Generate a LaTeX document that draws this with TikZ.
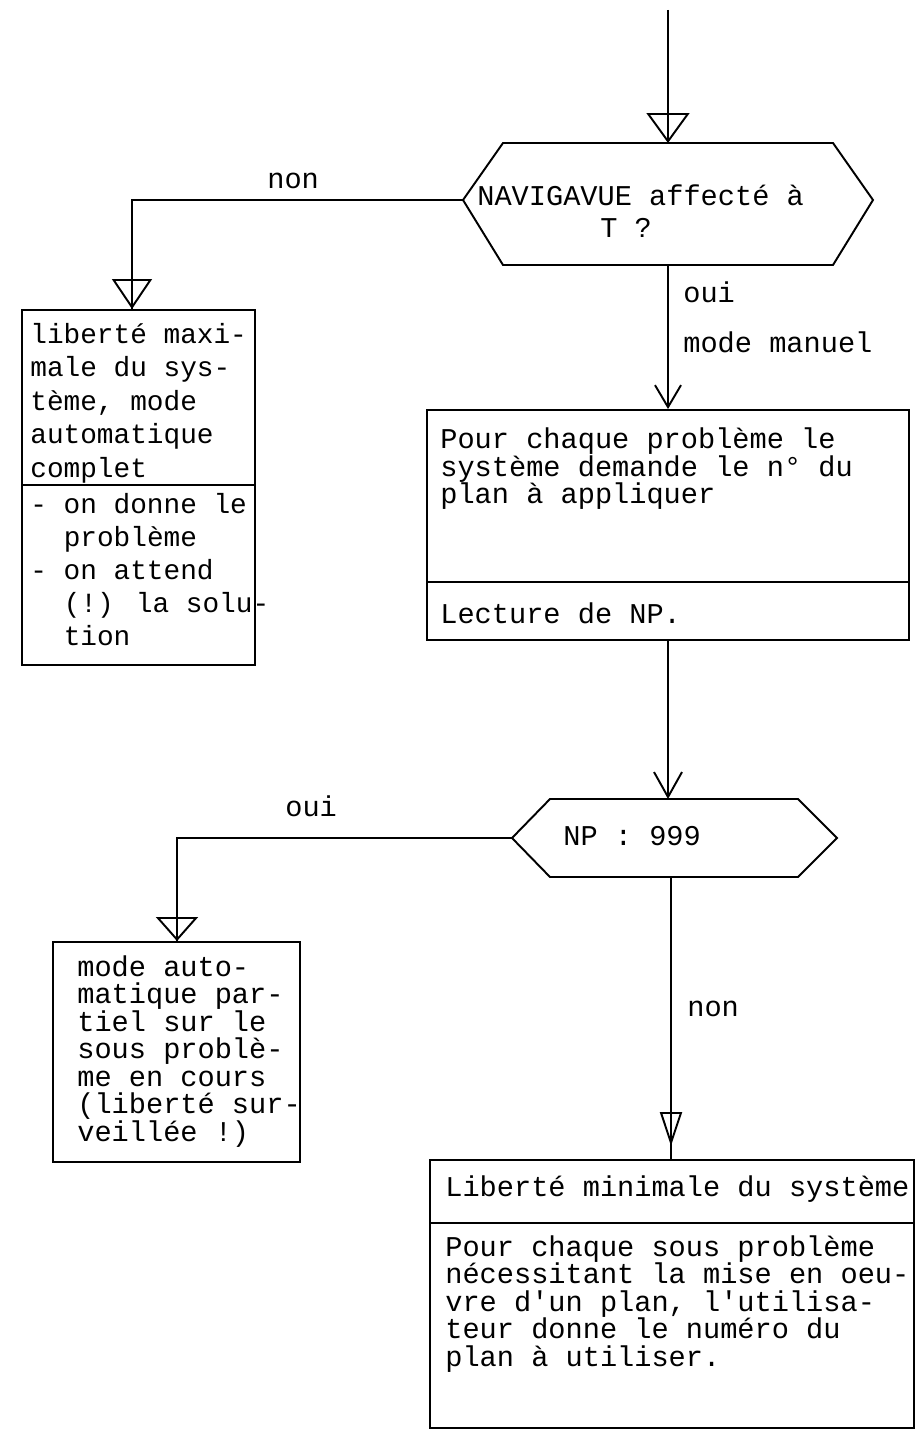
\documentclass[tikz,border=0pt]{standalone}
\usepackage{fontspec}
\newfontfamily\tw{Liberation Mono}
\usetikzlibrary{arrows.meta,decorations.markings,fit}
\begin{document}
\begin{tikzpicture}[x=0.02cm,y=-0.02cm,
  ln/.style={line width=1.1pt},
  box/.style={draw,line width=1.1pt,inner sep=0pt},
  txt/.style={anchor=base west,inner sep=0pt,font=\tw\fontsize{16.3pt}{16pt}\selectfont},
  txts/.style={txt,font=\tw\fontsize{15.8pt}{16pt}\selectfont},
  tri/.style n args={3}{postaction={decorate,decoration={markings,mark=at position #1 with {\arrow{Triangle[open,length=#2,width=#3]}}}}},
  barb/.style 2 args={-{Straight Barb[length=#1,width=#2]}}
]
\useasboundingbox (0,0) rectangle (915,1456);

% ---------- decision 1 ----------
\coordinate (start) at (668,10);
\coordinate (h1n) at (668,143);
\coordinate (h1s) at (668,265);
\coordinate (h1w) at (463,200);
\coordinate (h1e) at (873,200);
\draw[ln] (h1w) -- (503,143) -- (833,143) -- (h1e) -- (833,265) -- (503,265) -- cycle;
\node[txt] (h1a) at (477,206) {NAVIGAVUE affecté à};
\node[txt] (h1b) at (600,238) {T ?};

% ---------- box 1 ----------
\node[box,fit={(22,310)(255,665)}] (b1) {};
\draw[ln] (b1.west |- 0,485) -- (b1.east |- 0,485);
\foreach \t [count=\i] in {{liberté maxi-}, {male du sys-}, {tème, mode}, {automatique}, {complet}}
  \node[txts] (b1a\i) at (30,{343+33.5*(\i-1)}) {\t};
\node[txts] (b1b1) at (30,513) {- on donne le};
\node[txts] (b1b2) at (63.4,546) {problème};
\node[txts] (b1b3) at (30,579) {- on attend};
\node[txts] (b1b4) at (63.4,612) {(!) la solu-};
\node[txts] (b1b5) at (63.4,645) {tion};

% ---------- box 2 ----------
\node[box,fit={(427,410)(909,640)}] (b2) {};
\draw[ln] (b2.west |- 0,582) -- (b2.east |- 0,582);
\node[txt] (b2a1) at (440,448) {Pour chaque problème le};
\node[txt] (b2a2) at (440,476) {système demande le n° du};
\node[txt] (b2a3) at (440,503) {plan à appliquer};
\node[txt] (b2b1) at (440,623) {Lecture de NP.};

% ---------- decision 2 ----------
\coordinate (h2n) at (668,799);
\coordinate (h2s) at (671,877);
\coordinate (h2w) at (512,838);
\coordinate (h2e) at (837,838);
\draw[ln] (h2w) -- (550,799) -- (798,799) -- (h2e) -- (798,877) -- (550,877) -- cycle;
\node[txt] (h2a) at (563,845) {NP : 999};

% ---------- box 3 ----------
\node[box,fit={(53,942)(300,1162)}] (b3) {};
\foreach \t [count=\i] in {{mode auto-}, {matique par-}, {tiel sur le}, {sous problè-}, {me en cours}, {(liberté sur-}, {veillée !)}}
  \node[txt] (b3a\i) at (77,{976+27.5*(\i-1)}) {\t};

% ---------- box 4 ----------
\node[box,fit={(430,1160)(914,1428)}] (b4) {};
\draw[ln] (b4.west |- 0,1223) -- (b4.east |- 0,1223);
\node[txt] (b4a) at (445,1196) {Liberté minimale du système};
\foreach \t [count=\i] in {{Pour chaque sous problème}, {nécessitant la mise en oeu-}, {vre d\textquotesingle un plan, l\textquotesingle utilisa-}, {teur donne le numéro du}, {plan à utiliser.}}
  \node[txt] (b4b\i) at (445,{1256+27.5*(\i-1)}) {\t};

% ---------- connectors ----------
\coordinate (c1) at (132,200);
\coordinate (c2) at (177,838);
\draw[ln,tri={1}{0.6cm}{0.86cm}] (start) -- (h1n);
\draw[ln,tri={1}{0.6cm}{0.8cm}] (h1w) -- (c1) -- (c1 |- b1.north);
\draw[ln,barb={0.44cm}{0.52cm}] (h1s) -- (b2.north);
\draw[ln,barb={0.5cm}{0.56cm}] (b2.south) -- (h2n);
\draw[ln,tri={1}{0.48cm}{0.84cm}] (h2w) -- (c2) -- (c2 |- b3.north);
\draw[ln,tri={-0.26cm}{0.68cm}{0.44cm}] (h2s) -- (h2s |- b4.north);

% ---------- labels ----------
\node[txt] (lnon1) at (267,189) {non};
\node[txt] (loui1) at (683,303) {oui};
\node[txt] (lman) at (683,353) {mode manuel};
\node[txt] (loui2) at (285,816) {oui};
\node[txt] (lnon2) at (687,1016) {non};
\end{tikzpicture}
\end{document}
